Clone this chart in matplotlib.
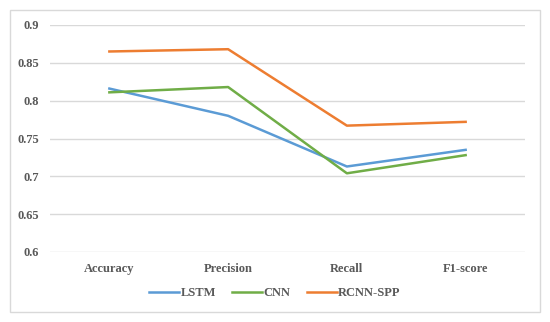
import matplotlib.pyplot as plt
from matplotlib.patches import Rectangle

categories = ['Accuracy', 'Precision', 'Recall', 'F1-score']
lstm = [0.816, 0.780, 0.713, 0.735]
cnn = [0.811, 0.818, 0.704, 0.728]
rcnn_spp = [0.865, 0.868, 0.767, 0.772]
y_ticks = [0.6, 0.65, 0.7, 0.75, 0.8, 0.85, 0.9]

ink = '#595959'
grid = '#D9D9D9'

plt.rcParams['font.family'] = ['Liberation Serif', 'DejaVu Serif']

fig = plt.figure(figsize=(5.5, 3.22), dpi=100)
ax = fig.add_axes([50 / 550, 1 - 252 / 322, 475 / 550, 227 / 322])

x = range(len(categories))
ax.plot(x, lstm, color='#5B9BD5', linewidth=1.8, label='LSTM')
ax.plot(x, cnn, color='#70AD47', linewidth=1.8, label='CNN')
ax.plot(x, rcnn_spp, color='#ED7D31', linewidth=1.8, label='RCNN-SPP')

ax.set_xlim(-0.5, len(categories) - 0.5)
ax.set_ylim(0.6, 0.9)
ax.set_xticks(list(x))
ax.set_xticklabels(categories)
ax.set_yticks(y_ticks)
ax.set_yticklabels([f'{v:g}' for v in y_ticks])
ax.yaxis.grid(True, color=grid, linewidth=1.0)
ax.set_axisbelow(True)
for s in ax.spines.values():
    s.set_visible(False)
ax.tick_params(length=0, colors=ink, labelsize=9, pad=8)
for lab in ax.get_xticklabels() + ax.get_yticklabels():
    lab.set_fontweight('bold')

leg = fig.legend(loc='center', bbox_to_anchor=(0.5, 1 - 293 / 322), ncol=3,
                 frameon=False, fontsize=9, handlelength=2.4,
                 handletextpad=0.1, columnspacing=1.3)
for t in leg.get_texts():
    t.set_color(ink)
    t.set_fontweight('bold')

fig.patches.append(Rectangle((10 / 550, 10 / 322), 530 / 550, 302 / 322,
                             transform=fig.transFigure, fill=False,
                             edgecolor=grid, linewidth=1.0))

fig.savefig('out.png', dpi=100)
